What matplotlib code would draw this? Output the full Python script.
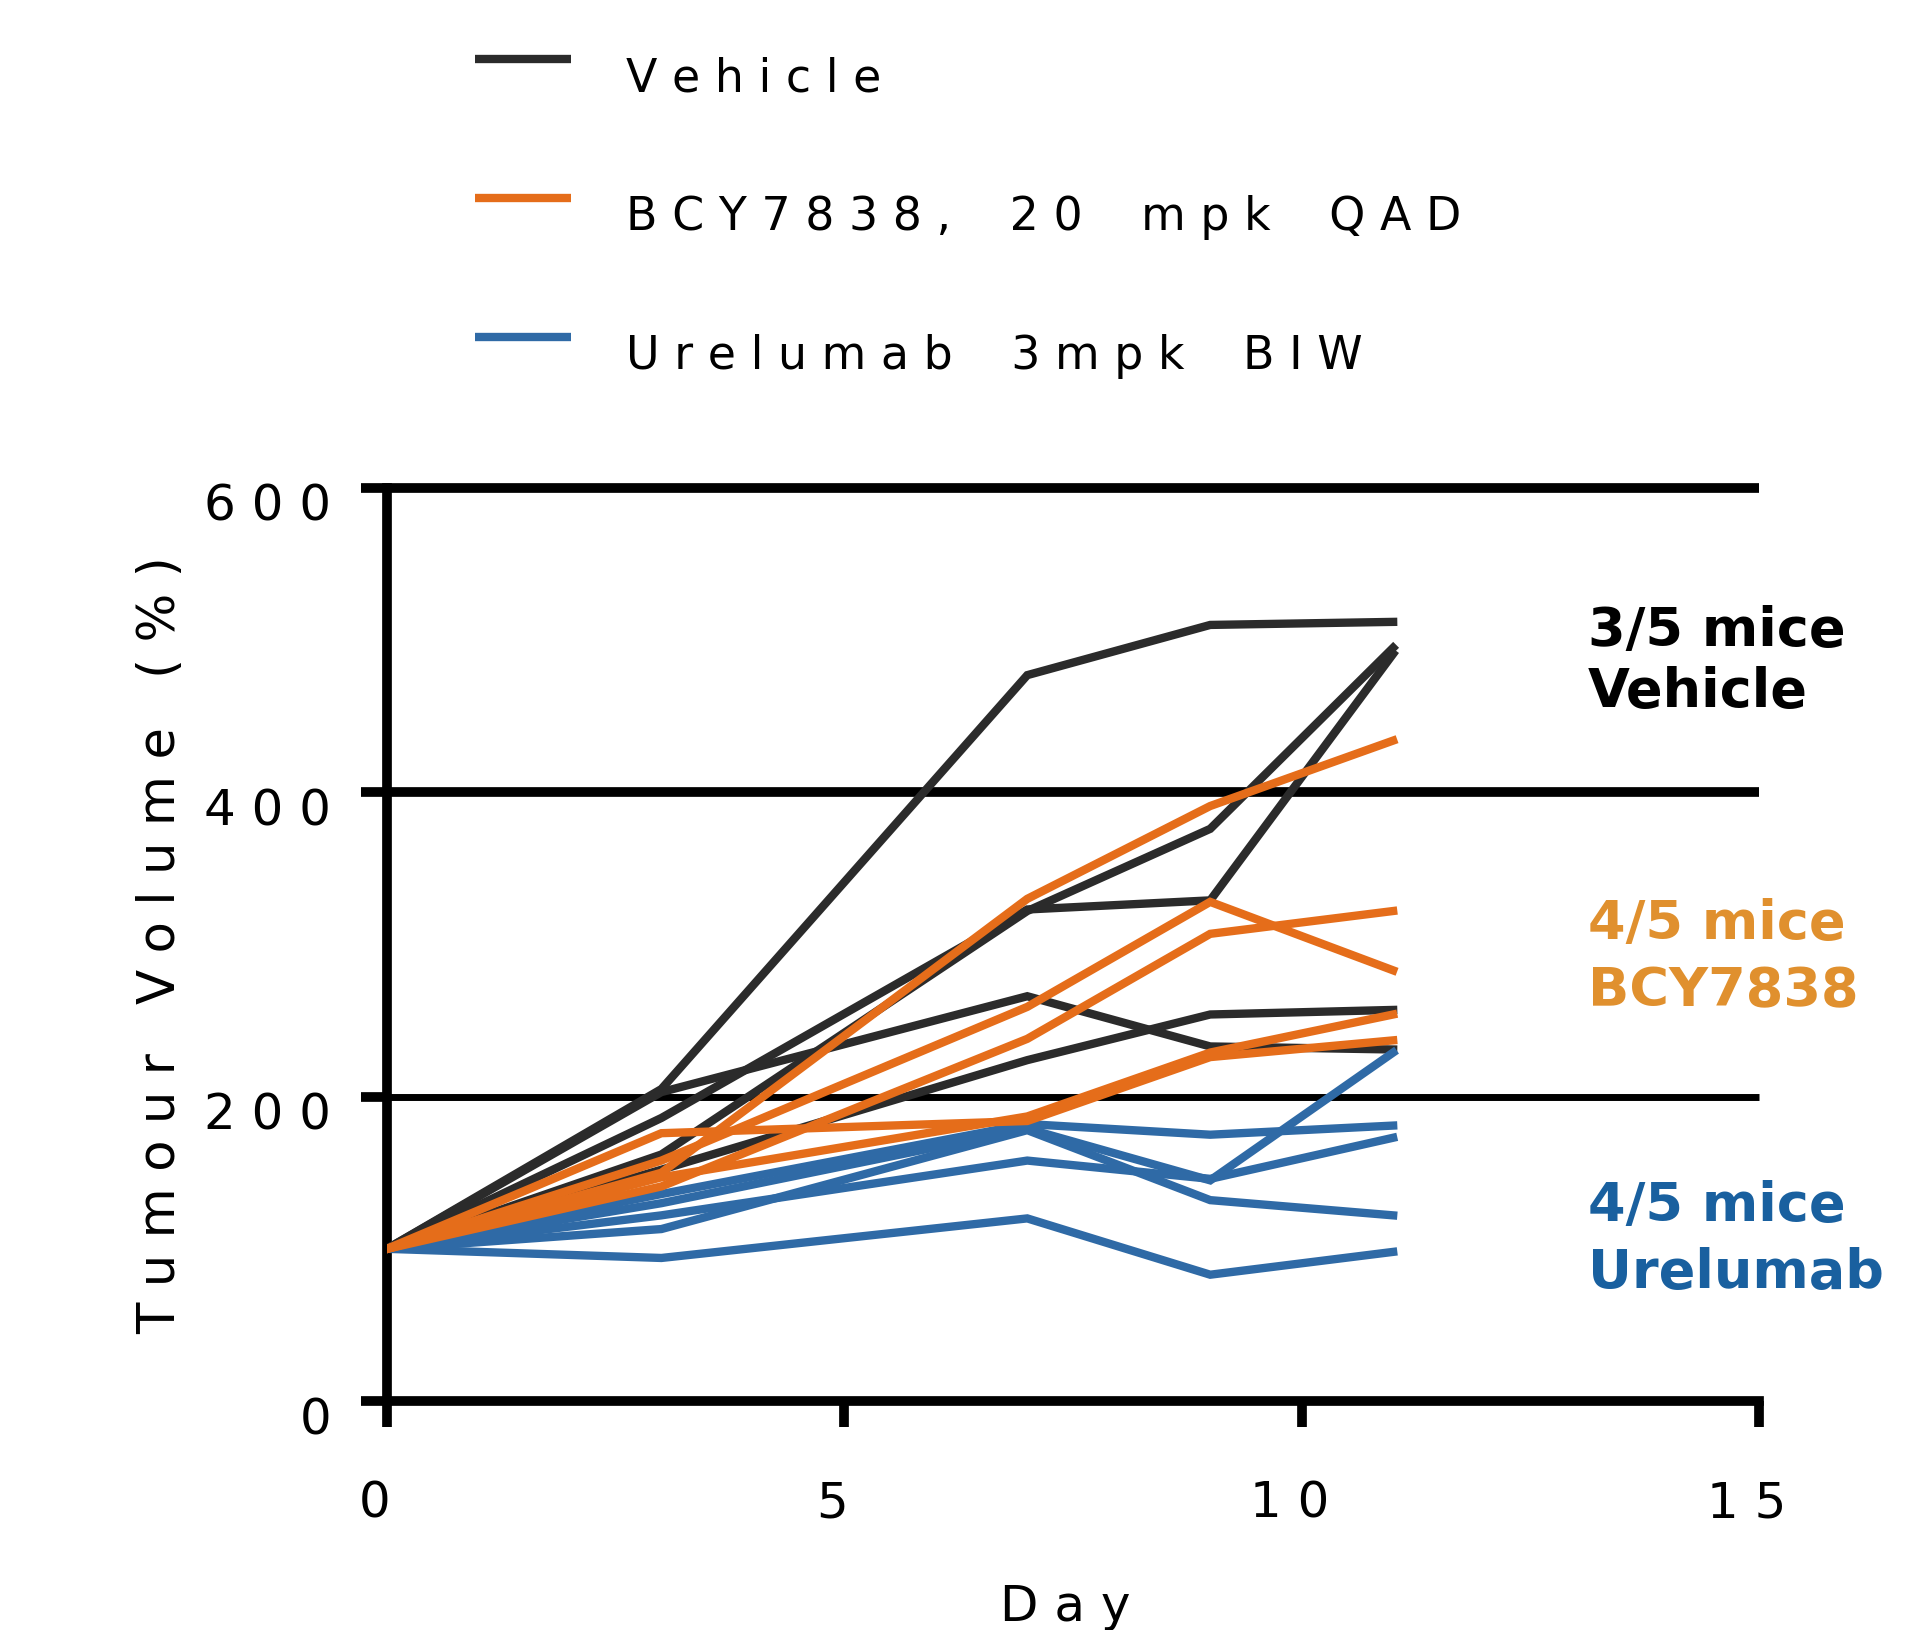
"""
Tumour volume over time per mouse, three treatment groups.
"""
import matplotlib.pyplot as plt
from matplotlib.lines import Line2D
from matplotlib.transforms import ScaledTranslation

# day of measurement
DAYS = [0, 3, 7, 9, 11]

# tumour volume (% of day 0), one row per mouse
VEHICLE = [
    [100, 205, 477, 510, 512],
    [100, 203, 266, 233, 231],
    [100, 186, 323, 329, 491],
    [100, 162, 322, 376, 495],
    [100, 152, 224, 254, 257],
]
BCY7838 = [
    [100, 150, 330, 391, 434],
    [100, 158, 259, 328, 283],
    [100, 141, 238, 307, 322],
    [100, 147, 187, 229, 254],
    [100, 176, 184, 226, 237],
]
URELUMAB = [
    [100, 136, 182, 175, 181],
    [100, 130, 179, 145, 229],
    [100, 122, 158, 146, 173],
    [100, 113, 178, 132, 122],
    [100, 94, 120, 83, 98],
]

LEGEND_LABELS = ['V e h i c l e',
                 'B C Y 7 8 3 8 ,    2 0    m p k    Q A D',
                 'U r e l u m a b    3 m p k    B I W']
GROUP_NOTES = [('3/5 mice', 'Vehicle'),
               ('4/5 mice', 'BCY7838'),
               ('4/5 mice', 'Urelumab')]

X_TICKS = [0, 5, 10, 15]
X_TICK_LABELS = ['0', '5', '1 0', '1 5']
Y_TICKS = [0, 200, 400, 600]
Y_TICK_LABELS = ['0', '2 0 0', '4 0 0', '6 0 0']

LINE_COLORS = ['#2b2b2b', '#e56d1a', '#2f6aa6']
NOTE_COLORS = ['#000000', '#e0902e', '#19609f']

fig = plt.figure(figsize=(19.33, 16.31), dpi=100)
ax = fig.add_axes([0.2002, 0.1404, 0.7098, 0.5598])

# horizontal reference lines at 200 / 400 / 600
for y in Y_TICKS[1:]:
    ax.axhline(y, color='black', lw=5 if y == 200 else 7, zorder=1,
               clip_on=False, solid_capstyle='butt')

groups = [VEHICLE, URELUMAB, BCY7838]
group_colors = [LINE_COLORS[0], LINE_COLORS[2], LINE_COLORS[1]]
for data, color in zip(groups, group_colors):
    for mouse in data:
        ax.plot(DAYS, mouse, color=color, lw=6, zorder=3,
                solid_joinstyle='miter')

ax.set_xlim(0, 15)
ax.set_ylim(0, 600)
for side in ['top', 'right']:
    ax.spines[side].set_visible(False)
for side in ['left', 'bottom']:
    ax.spines[side].set_linewidth(7)

ax.set_xticks(X_TICKS)
ax.set_xticklabels(X_TICK_LABELS)
ax.set_yticks(Y_TICKS)
ax.set_yticklabels(Y_TICK_LABELS)
ax.tick_params(axis='both', direction='out', length=19, width=7, labelsize=36)
ax.tick_params(axis='y', pad=21)
ax.tick_params(axis='x', pad=37)

# labels in the original sit a little left / below their ticks
for lbl in ax.get_xticklabels():
    lbl.set_transform(lbl.get_transform() + ScaledTranslation(-0.12, 0, fig.dpi_scale_trans))
for lbl in ax.get_yticklabels():
    lbl.set_transform(lbl.get_transform() + ScaledTranslation(0, -0.13, fig.dpi_scale_trans))

ax.set_xlabel('D a y', fontsize=36, labelpad=40)
ax.xaxis.label.set_x(0.494)
ax.set_ylabel('T u m o u r   V o l u m e   ( % )', fontsize=37, labelpad=13)

# group summaries on the right
note_y = [(497, 457), (304, 260), (119, 75)]
for (l1, l2), color, (y1, y2) in zip(GROUP_NOTES, NOTE_COLORS, note_y):
    ax.text(13.13, y1, l1, color=color, fontsize=39, fontweight='bold',
            va='baseline', ha='left', clip_on=False)
    ax.text(13.13, y2, l2, color=color, fontsize=39, fontweight='bold',
            va='baseline', ha='left', clip_on=False)

handles = [Line2D([], [], color=c, lw=6, solid_capstyle='butt') for c in LINE_COLORS]
leg = fig.legend(handles, LEGEND_LABELS, loc='upper left',
                 bbox_to_anchor=(0.2457, 0.9655), frameon=False, fontsize=33,
                 handlelength=2.1, handletextpad=1.2, labelspacing=2.05,
                 borderpad=0, borderaxespad=0)
# legend swatches sit level with the top of the text in the original
for line in leg.get_lines():
    line.set_ydata([v + 11 for v in line.get_ydata()])

fig.savefig('out.png', dpi=100)
